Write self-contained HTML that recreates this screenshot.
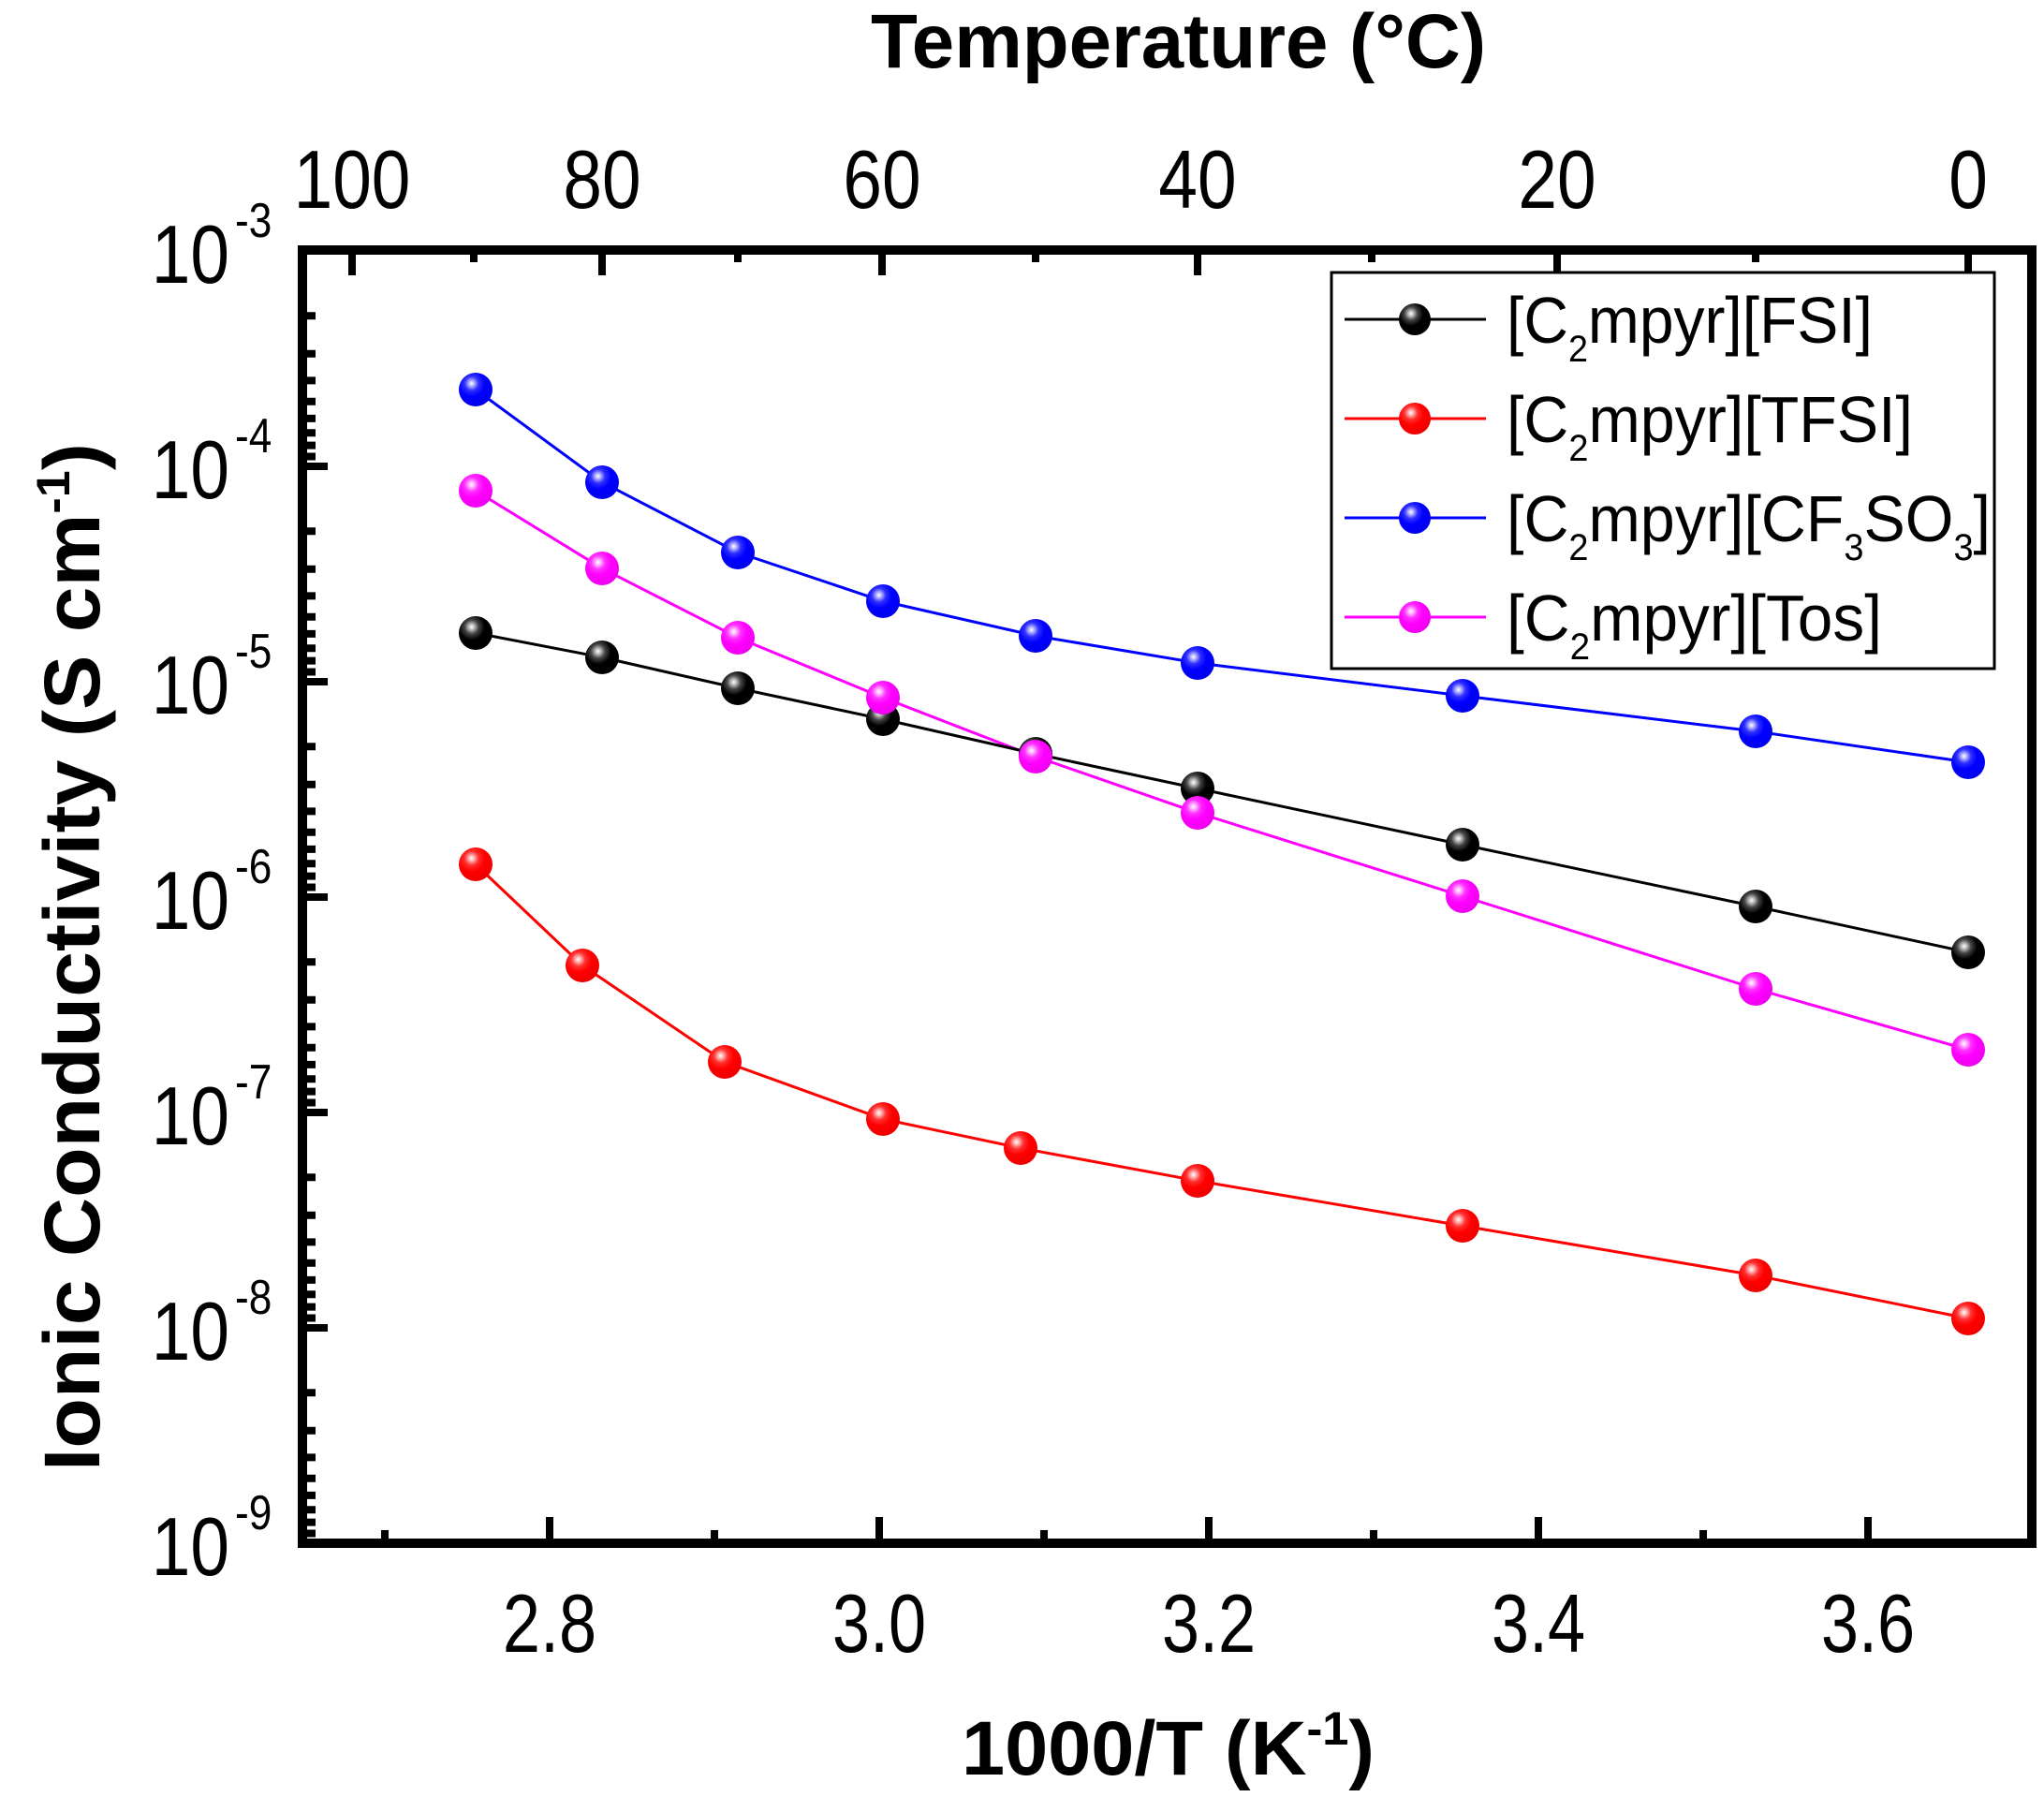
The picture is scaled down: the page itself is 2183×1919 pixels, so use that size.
<!DOCTYPE html>
<html><head><meta charset="utf-8"><style>html,body{margin:0;padding:0;background:#fff}svg{display:block}</style></head>
<body>
<svg width="2183" height="1919" viewBox="0 0 2183 1919" xmlns="http://www.w3.org/2000/svg" font-family="Liberation Sans, Arial, sans-serif">
<defs>
<radialGradient id="gk" cx="0.38" cy="0.32" r="0.7"><stop offset="0" stop-color="#fff"/><stop offset="0.12" stop-color="#bbb"/><stop offset="0.3" stop-color="#444"/><stop offset="0.55" stop-color="#000"/><stop offset="1" stop-color="#000"/></radialGradient>
<radialGradient id="gr" cx="0.38" cy="0.32" r="0.7"><stop offset="0" stop-color="#fff"/><stop offset="0.12" stop-color="#ffb0b0"/><stop offset="0.3" stop-color="#ff3030"/><stop offset="0.55" stop-color="#f00"/><stop offset="1" stop-color="#e00"/></radialGradient>
<radialGradient id="gb" cx="0.38" cy="0.32" r="0.7"><stop offset="0" stop-color="#fff"/><stop offset="0.12" stop-color="#b0b0ff"/><stop offset="0.3" stop-color="#3030ff"/><stop offset="0.55" stop-color="#00f"/><stop offset="1" stop-color="#00e"/></radialGradient>
<radialGradient id="gm" cx="0.38" cy="0.32" r="0.7"><stop offset="0" stop-color="#fff"/><stop offset="0.12" stop-color="#ffb0ff"/><stop offset="0.3" stop-color="#ff30ff"/><stop offset="0.55" stop-color="#f0f"/><stop offset="1" stop-color="#e0e"/></radialGradient>
</defs>

<g fill="none" stroke-width="3">
<polyline stroke="#00f" points="508,416 643,515 788,590 943,642 1106,679 1279,708 1562,743 1875,781 2102,814"/>
<polyline stroke="#f0f" points="508,524 643,607 788,681 943,745 1106,808 1279,868 1562,957 1875,1056 2102,1121"/>
<polyline stroke="#000" points="508,676 643,702 788,735 943,768 1106,805 1279,842 1562,902 1875,968 2102,1017"/>
<polyline stroke="#f00" points="508,923 622,1031 774,1134 943,1195 1090,1226 1279,1261 1562,1309 1875,1362 2102,1408"/>
</g>
<g>
<g fill="url(#gb)"><circle cx="508" cy="416" r="18"/><circle cx="643" cy="515" r="18"/><circle cx="788" cy="590" r="18"/><circle cx="943" cy="642" r="18"/><circle cx="1106" cy="679" r="18"/><circle cx="1279" cy="708" r="18"/><circle cx="1562" cy="743" r="18"/><circle cx="1875" cy="781" r="18"/><circle cx="2102" cy="814" r="18"/></g>
<g fill="url(#gk)"><circle cx="508" cy="676" r="18"/><circle cx="643" cy="702" r="18"/><circle cx="788" cy="735" r="18"/><circle cx="943" cy="768" r="18"/><circle cx="1106" cy="805" r="18"/><circle cx="1279" cy="842" r="18"/><circle cx="1562" cy="902" r="18"/><circle cx="1875" cy="968" r="18"/><circle cx="2102" cy="1017" r="18"/></g>
<g fill="url(#gm)"><circle cx="508" cy="524" r="18"/><circle cx="643" cy="607" r="18"/><circle cx="788" cy="681" r="18"/><circle cx="943" cy="745" r="18"/><circle cx="1106" cy="808" r="18"/><circle cx="1279" cy="868" r="18"/><circle cx="1562" cy="957" r="18"/><circle cx="1875" cy="1056" r="18"/><circle cx="2102" cy="1121" r="18"/></g>
<g fill="url(#gr)"><circle cx="508" cy="923" r="18"/><circle cx="622" cy="1031" r="18"/><circle cx="774" cy="1134" r="18"/><circle cx="943" cy="1195" r="18"/><circle cx="1090" cy="1226" r="18"/><circle cx="1279" cy="1261" r="18"/><circle cx="1562" cy="1309" r="18"/><circle cx="1875" cy="1362" r="18"/><circle cx="2102" cy="1408" r="18"/></g>
</g>

<rect x="323" y="267" width="1847" height="1381" fill="none" stroke="#000" stroke-width="10"/>

<g stroke="#000" stroke-width="8">
<path d="M587 1648V1620M939 1648V1620M1291 1648V1620M1643 1648V1620M1995 1648V1620"/>
<path d="M411 1648V1634M763 1648V1634M1115 1648V1634M1467 1648V1634M1819 1648V1634"/>
<path d="M376 267V294M643 267V294M942 267V294M1279 267V294M1663 267V294M2102 267V294"/>
<path d="M506 267V280M788 267V280M1106 267V280M1465 267V280M1875 267V280"/>
</g>
<g stroke="#000" stroke-width="8">
<path d="M323 268H350M323 498H350M323 728H350M323 958H350M323 1188H350M323 1418H350"/>
<path d="M323 337.2H337M323 377.7H337M323 406.4H337M323 428.7H337M323 446.9H337M323 462.3H337M323 475.6H337M323 487.5H337
M323 567.2H337M323 607.7H337M323 636.4H337M323 658.7H337M323 676.9H337M323 692.3H337M323 705.6H337M323 717.5H337
M323 797.2H337M323 837.7H337M323 866.4H337M323 888.7H337M323 906.9H337M323 922.3H337M323 935.6H337M323 947.5H337
M323 1027.2H337M323 1067.7H337M323 1096.4H337M323 1118.7H337M323 1136.9H337M323 1152.3H337M323 1165.6H337M323 1177.5H337
M323 1257.2H337M323 1297.7H337M323 1326.4H337M323 1348.7H337M323 1366.9H337M323 1382.3H337M323 1395.6H337M323 1407.5H337
M323 1487.2H337M323 1527.7H337M323 1556.4H337M323 1578.7H337M323 1596.9H337M323 1612.3H337M323 1625.6H337M323 1637.5H337"/>
</g>

<g font-size="88" text-anchor="middle">
<text transform="translate(587,1764) scale(0.82,1)">2.8</text>
<text transform="translate(939,1764) scale(0.82,1)">3.0</text>
<text transform="translate(1291,1764) scale(0.82,1)">3.2</text>
<text transform="translate(1643,1764) scale(0.82,1)">3.4</text>
<text transform="translate(1995,1764) scale(0.82,1)">3.6</text>
<text transform="translate(376,222) scale(0.85,1)">100</text>
<text transform="translate(643,222) scale(0.85,1)">80</text>
<text transform="translate(942,222) scale(0.85,1)">60</text>
<text transform="translate(1279,222) scale(0.85,1)">40</text>
<text transform="translate(1663,222) scale(0.85,1)">20</text>
<text transform="translate(2102,222) scale(0.85,1)">0</text>
</g>
<g font-size="88" text-anchor="end">
<text transform="translate(245,302) scale(0.85,1)">10</text>
<text transform="translate(245,532) scale(0.85,1)">10</text>
<text transform="translate(245,762) scale(0.85,1)">10</text>
<text transform="translate(245,992) scale(0.85,1)">10</text>
<text transform="translate(245,1222) scale(0.85,1)">10</text>
<text transform="translate(245,1452) scale(0.85,1)">10</text>
<text transform="translate(245,1682) scale(0.85,1)">10</text>
</g>
<g font-size="52">
<text transform="translate(251,253) scale(0.85,1)">-3</text>
<text transform="translate(251,483) scale(0.85,1)">-4</text>
<text transform="translate(251,713) scale(0.85,1)">-5</text>
<text transform="translate(251,943) scale(0.85,1)">-6</text>
<text transform="translate(251,1173) scale(0.85,1)">-7</text>
<text transform="translate(251,1403) scale(0.85,1)">-8</text>
<text transform="translate(251,1633) scale(0.85,1)">-9</text>
</g>

<text x="930" y="72" font-size="82" font-weight="bold" textLength="657" lengthAdjust="spacingAndGlyphs">Temperature (°C)</text>
<text x="1027" y="1895" font-size="82" font-weight="bold" textLength="441" lengthAdjust="spacingAndGlyphs">1000/T (K<tspan font-size="50" dy="-32">-1</tspan><tspan dy="32">)</tspan></text>
<text transform="translate(106,1571) rotate(-90)" font-size="84" font-weight="bold" textLength="1098" lengthAdjust="spacingAndGlyphs">Ionic Conductivity (S cm<tspan font-size="50" dy="-32">-1</tspan><tspan dy="32">)</tspan></text>

<rect x="1422" y="291" width="708" height="423" fill="#fff" stroke="#000" stroke-width="3"/>
<g stroke-width="3">
<line x1="1436" y1="341" x2="1587" y2="341" stroke="#000"/>
<line x1="1436" y1="447" x2="1587" y2="447" stroke="#f00"/>
<line x1="1436" y1="553" x2="1587" y2="553" stroke="#00f"/>
<line x1="1436" y1="659" x2="1587" y2="659" stroke="#f0f"/>
</g>
<circle cx="1511" cy="341" r="17" fill="url(#gk)"/>
<circle cx="1511" cy="447" r="17" fill="url(#gr)"/>
<circle cx="1511" cy="553" r="17" fill="url(#gb)"/>
<circle cx="1511" cy="659" r="17" fill="url(#gm)"/>
<g font-size="70">
<text x="1609" y="366" textLength="391" lengthAdjust="spacingAndGlyphs">[C<tspan font-size="40" dy="20">2</tspan><tspan dy="-20">mpyr][FSI]</tspan></text>
<text x="1609" y="472" textLength="434" lengthAdjust="spacingAndGlyphs">[C<tspan font-size="40" dy="20">2</tspan><tspan dy="-20">mpyr][TFSI]</tspan></text>
<text x="1609" y="578" textLength="517" lengthAdjust="spacingAndGlyphs">[C<tspan font-size="40" dy="20">2</tspan><tspan dy="-20">mpyr][CF</tspan><tspan font-size="40" dy="20">3</tspan><tspan dy="-20">SO</tspan><tspan font-size="40" dy="20">3</tspan><tspan dy="-20">]</tspan></text>
<text x="1609" y="684" textLength="401" lengthAdjust="spacingAndGlyphs">[C<tspan font-size="40" dy="20">2</tspan><tspan dy="-20">mpyr][Tos]</tspan></text>
</g>
</svg>
</body></html>
